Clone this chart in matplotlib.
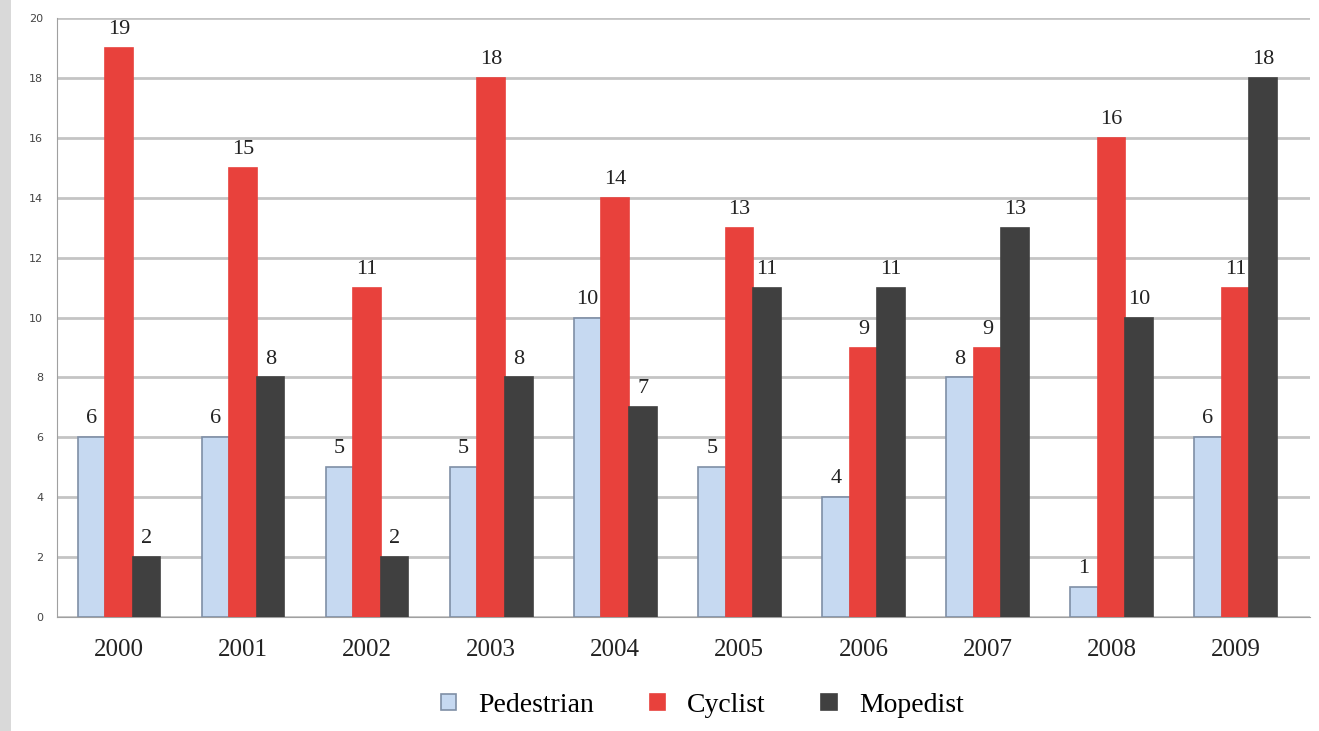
import numpy as np
import matplotlib
matplotlib.use("Agg")
import matplotlib.pyplot as plt
from matplotlib.patches import Rectangle

years = ["2000", "2001", "2002", "2003", "2004", "2005", "2006", "2007", "2008", "2009"]
pedestrian = [6, 6, 5, 5, 10, 5, 4, 8, 1, 6]
cyclist = [19, 15, 11, 18, 14, 13, 9, 9, 16, 11]
mopedist = [2, 8, 2, 8, 7, 11, 11, 13, 10, 18]

series = [
    ("Pedestrian", pedestrian, "#c6d9f1", "#7f8fa6"),
    ("Cyclist", cyclist, "#e8413c", "#e8413c"),
    ("Mopedist", mopedist, "#404040", "#404040"),
]

fig = plt.figure(figsize=(13.19, 7.31), dpi=100)
fig.patches.append(Rectangle((0, 0), 0.008, 1, transform=fig.transFigure,
                             facecolor="#d9d9d9", edgecolor="none"))
ax = fig.add_axes([0.0432, 0.156, 0.950, 0.819])

x = np.arange(len(years))
w = 0.222
for i, (name, vals, fc, ec) in enumerate(series):
    bars = ax.bar(x + (i - 1) * w, vals, w, color=fc, edgecolor=ec,
                  linewidth=1.2, label=name, zorder=3)
    for b, v in zip(bars, vals):
        ax.text(b.get_x() + b.get_width() / 2, v + 0.3, str(v),
                ha="center", va="bottom", fontsize=16,
                family="Liberation Serif", color="#222222", zorder=4)

ax.set_xlim(-0.5, 9.6)
ax.set_ylim(0, 20)
ax.set_yticks(range(0, 21, 2))
ax.yaxis.grid(True, color="#c4c4c4", linewidth=2, zorder=0)
ax.set_xticks(x)
ax.set_xticklabels(years, family="Liberation Serif", fontsize=18, color="#222222")
ax.tick_params(axis="x", length=0, pad=16)
ax.tick_params(axis="y", length=0, labelsize=8, colors="#444444", pad=10)
for s in ["top", "right"]:
    ax.spines[s].set_visible(False)
ax.spines["left"].set_color("#a0a0a0")
ax.spines["bottom"].set_color("#a0a0a0")

leg = ax.legend(loc="upper center", bbox_to_anchor=(0.515, -0.085), ncol=3,
                frameon=False, prop={"family": "Liberation Serif", "size": 20},
                handlelength=0.55, handleheight=0.55, columnspacing=2.0,
                handletextpad=0.8)

fig.savefig("out.png", dpi=100)
